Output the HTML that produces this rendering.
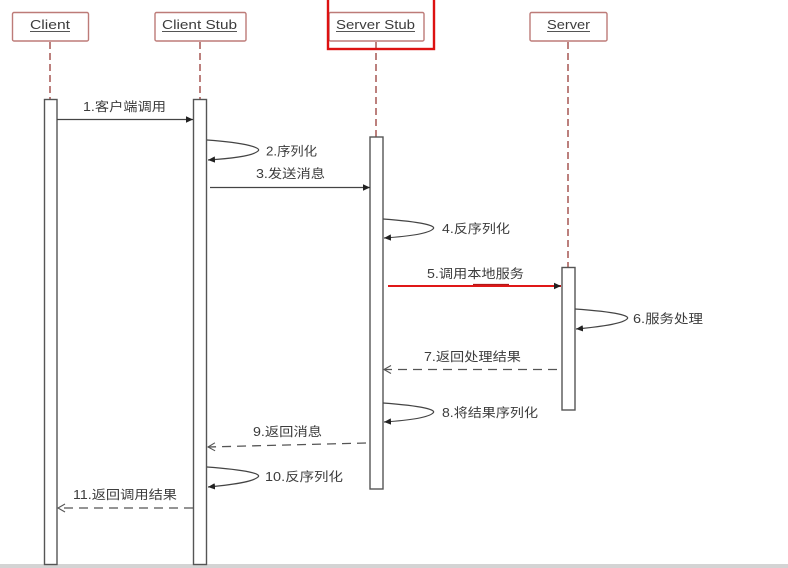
<!DOCTYPE html>
<html>
<head>
<meta charset="utf-8">
<style>
  html,body{margin:0;padding:0;background:#fff;}
  body{width:788px;height:568px;overflow:hidden;}
  svg{display:block;}
  .lbl{font-family:"Liberation Sans","Noto Sans CJK SC",sans-serif;font-size:12.5px;fill:#3c3c3c;}
  .hdr{font-family:"Liberation Sans","Noto Sans CJK SC",sans-serif;font-size:13px;fill:#3c3c3c;}
</style>
</head>
<body>
<svg width="788" height="568" viewBox="0 0 788 568" xmlns="http://www.w3.org/2000/svg">
  <defs>
    <marker id="fill" markerWidth="8" markerHeight="8" refX="7" refY="4" orient="auto" markerUnits="userSpaceOnUse">
      <path d="M0,0.8 L7,4 L0,7.2 Z" fill="#222"/>
    </marker>
    <marker id="open" markerWidth="10" markerHeight="10" refX="8" refY="5" orient="auto" markerUnits="userSpaceOnUse">
      <path d="M1,1 L8,5 L1,9" fill="none" stroke="#555" stroke-width="1.1"/>
    </marker>
  </defs>

  <rect x="0" y="0" width="788" height="568" fill="#fff"/>
  <!-- bottom gray line -->
  <rect x="0" y="564" width="788" height="4" fill="#d4d4d4"/>

  <!-- lifelines -->
  <g stroke="#a55652" stroke-width="1.5" stroke-dasharray="7 4" fill="none">
    <line x1="50" y1="42" x2="50" y2="99"/>
    <line x1="200" y1="42" x2="200" y2="99"/>
    <line x1="376" y1="42" x2="376" y2="137"/>
    <line x1="568" y1="42" x2="568" y2="267"/>
  </g>

  <!-- header boxes -->
  <g fill="#fff" stroke="#bd7b78" stroke-width="1.4">
    <rect x="12.5" y="12.5" width="76" height="28.5" rx="1.5"/>
    <rect x="155" y="12.5" width="91" height="28.5" rx="1.5"/>
    <rect x="329" y="12.5" width="95" height="28.5" rx="1.5"/>
    <rect x="530" y="12.5" width="77" height="28.5" rx="1.5"/>
  </g>
  <!-- red highlight -->
  <rect x="328" y="-5" width="106" height="54" fill="none" stroke="#dd1111" stroke-width="2.4"/>

  <!-- header text -->
  <text class="hdr" x="30" y="29" textLength="40" lengthAdjust="spacingAndGlyphs">Client</text>
  <text class="hdr" x="162" y="29" textLength="75" lengthAdjust="spacingAndGlyphs">Client Stub</text>
  <text class="hdr" x="336" y="29" textLength="79" lengthAdjust="spacingAndGlyphs">Server Stub</text>
  <text class="hdr" x="547" y="29" textLength="43" lengthAdjust="spacingAndGlyphs">Server</text>
  <g stroke="#555" stroke-width="0.9">
    <line x1="30" y1="31.5" x2="70" y2="31.5"/>
    <line x1="162" y1="31.5" x2="237" y2="31.5"/>
    <line x1="336" y1="31.5" x2="415" y2="31.5"/>
    <line x1="547" y1="31.5" x2="590" y2="31.5"/>
  </g>

  <!-- activation bars -->
  <g fill="#fff" stroke="#555" stroke-width="1.4">
    <rect x="44.5" y="99.5" width="12.5" height="465"/>
    <rect x="193.5" y="99.5" width="13" height="465"/>
    <rect x="370" y="137" width="13" height="352"/>
    <rect x="562" y="267.5" width="13" height="142.5"/>
  </g>

  <!-- 1 -->
  <line x1="57" y1="119.5" x2="193" y2="119.5" stroke="#444" stroke-width="1.3" marker-end="url(#fill)"/>
  <text class="lbl" x="83" y="111" textLength="83" lengthAdjust="spacingAndGlyphs">1.客户端调用</text>

  <!-- 2 loop -->
  <path d="M207,140 C248,143 262,148 258,151 C254,155 240,158 208,160" fill="none" stroke="#444" stroke-width="1.2" marker-end="url(#fill)"/>
  <text class="lbl" x="266" y="155.5" textLength="51" lengthAdjust="spacingAndGlyphs">2.序列化</text>

  <!-- 3 -->
  <line x1="210" y1="187.5" x2="370" y2="187.5" stroke="#444" stroke-width="1.3" marker-end="url(#fill)"/>
  <text class="lbl" x="256" y="178" textLength="69" lengthAdjust="spacingAndGlyphs">3.发送消息</text>

  <!-- 4 loop -->
  <path d="M383,219 C424,222 437,226 433,229 C429,233 414,236 384,238" fill="none" stroke="#444" stroke-width="1.2" marker-end="url(#fill)"/>
  <text class="lbl" x="442" y="233" textLength="68" lengthAdjust="spacingAndGlyphs">4.反序列化</text>

  <!-- 5 red -->
  <line x1="388" y1="286" x2="561" y2="286" stroke="#e01818" stroke-width="2" marker-end="url(#fill)"/>
  <line x1="473" y1="284.5" x2="509" y2="284.5" stroke="#b01818" stroke-width="1.2"/>
  <text class="lbl" x="427" y="278" textLength="97" lengthAdjust="spacingAndGlyphs">5.调用本地服务</text>

  <!-- 6 loop -->
  <path d="M575,309 C618,312 631,316 627,319 C623,323 608,326 576,329" fill="none" stroke="#444" stroke-width="1.2" marker-end="url(#fill)"/>
  <text class="lbl" x="633" y="323" textLength="70" lengthAdjust="spacingAndGlyphs">6.服务处理</text>

  <!-- 7 dashed -->
  <line x1="557" y1="369.5" x2="384" y2="369.5" stroke="#555" stroke-width="1.3" stroke-dasharray="9 6" marker-end="url(#open)"/>
  <text class="lbl" x="424" y="361" textLength="97" lengthAdjust="spacingAndGlyphs">7.返回处理结果</text>

  <!-- 8 loop -->
  <path d="M383,403 C424,406 437,410 433,413 C429,417 414,420 384,422" fill="none" stroke="#444" stroke-width="1.2" marker-end="url(#fill)"/>
  <text class="lbl" x="442" y="417" textLength="96" lengthAdjust="spacingAndGlyphs">8.将结果序列化</text>

  <!-- 9 dashed -->
  <line x1="366" y1="443" x2="208" y2="447" stroke="#555" stroke-width="1.3" stroke-dasharray="9 6" marker-end="url(#open)"/>
  <text class="lbl" x="253" y="436" textLength="69" lengthAdjust="spacingAndGlyphs">9.返回消息</text>

  <!-- 10 loop -->
  <path d="M207,467 C248,470 262,474 258,477 C254,481 240,484 208,487" fill="none" stroke="#444" stroke-width="1.2" marker-end="url(#fill)"/>
  <text class="lbl" x="265" y="481" textLength="78" lengthAdjust="spacingAndGlyphs">10.反序列化</text>

  <!-- 11 dashed -->
  <line x1="193" y1="508" x2="58" y2="508" stroke="#555" stroke-width="1.3" stroke-dasharray="9 6" marker-end="url(#open)"/>
  <text class="lbl" x="73" y="499" textLength="104" lengthAdjust="spacingAndGlyphs">11.返回调用结果</text>
</svg>
</body>
</html>
